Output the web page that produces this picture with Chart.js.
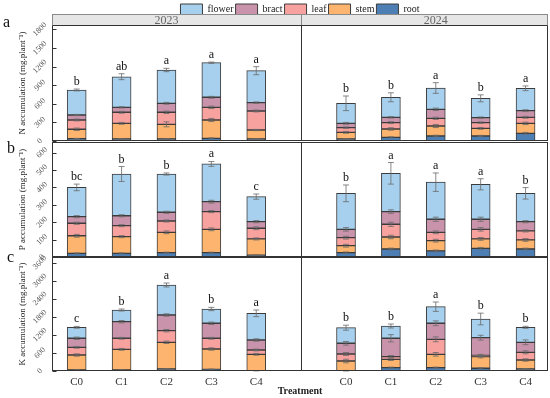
<!DOCTYPE html>
<html><head><meta charset="utf-8">
<script src="https://cdn.jsdelivr.net/npm/chart.js@4.4.1/dist/chart.umd.min.js"></script>
<style>
html,body{margin:0;padding:0;background:#fff;}
#wrap{position:relative;width:550px;height:398px;overflow:hidden;background:#fff;}
canvas{position:absolute;left:0;}
</style></head>
<body><div id="wrap">
<canvas id="cN" style="top:0px" width="550" height="160"></canvas>
<canvas id="cP" style="top:125px" width="550" height="150"></canvas>
<canvas id="cK" style="top:240px" width="550" height="158"></canvas>
</div>
<script>
// ---------- data (first five = 2023 C0..C4, last five = 2024 C0..C4) ----------
const categories = ['C0','C1','C2','C3','C4'];
const years = ['2023','2024'];
const parts = ['root','stem','leaf','bract','flower'];

const N_ticks = [0,300,600,900,1200,1500,1800];
const P_ticks = [0,100,200,300,400,500,600];
const K_ticks = [0,600,1200,1800,2400,3000,3600];

const N_root   = [37,32,32,43,32, 32,59,81,81,124];
const N_stem   = [152,253,237,296,145, 108,135,161,123,161];
const N_leaf   = [150,178,194,204,307, 75,102,124,92,97];
const N_bract  = [80,80,145,162,134, 70,86,145,80,107];
const N_flower = [404,494,537,558,516, 323,323,344,312,361];
const N_rootErr   = [5,5,5,8,5, 8,10,12,10,15];
const N_stemErr   = [20,15,40,25,10, 15,20,25,15,20];
const N_leafErr   = [15,15,20,20,15, 12,15,18,12,15];
const N_bractErr  = [10,10,15,15,12, 15,12,20,12,15];
const N_flowerErr = [15,48,27,10,65, 118,72,86,56,38];
const N_letters = ['b','ab','a','a','a', 'b','b','a','b','a'];

const P_root   = [21,21,25,25,10, 25,46,35,50,46];
const P_stem   = [101,96,117,134,94, 40,69,59,54,52];
const P_leaf   = [72,63,65,102,61, 46,73,48,55,52];
const P_bract  = [38,57,50,57,38, 48,73,75,58,53];
const P_flower = [168,240,220,217,144, 207,220,213,201,163];
const P_rootErr   = [3,3,3,3,2, 4,5,5,5,5];
const P_stemErr   = [8,6,8,8,6, 8,10,8,8,8];
const P_leafErr   = [6,6,6,6,8, 8,12,8,10,6];
const P_bractErr  = [6,6,6,8,6, 10,10,12,12,6];
const P_flowerErr = [19,43,6,14,15, 48,62,53,32,33];
const P_letters = ['bc','b','b','a','c', 'b','a','a','a','b'];

const K_root   = [40,33,66,56,10, 10,110,110,90,66];
const K_stem   = [491,687,887,674,544, 322,278,444,385,299];
const K_leaf   = [256,366,385,356,143, 232,87,498,46,256];
const K_bract  = [299,551,521,498,332, 356,611,532,585,332];
const K_flower = [365,388,996,474,886, 518,408,551,620,498];
const K_rootErr   = [10,10,15,10,5, 10,20,20,20,15];
const K_stemErr   = [40,30,40,40,30, 60,40,60,40,40];
const K_leafErr   = [30,30,40,30,30, 50,40,80,30,50];
const K_bractErr  = [40,40,40,40,40, 60,120,80,80,80];
const K_flowerErr = [30,33,66,55,110, 83,66,155,194,33];
const K_letters = ['c','b','a','b','a', 'b','b','a','b','b'];

// ---------- styles ----------
const FONT = 'Liberation Serif';
const partColors = ['#4d7fb4','#fcb46e','#f8a2a0','#c994ab','#a6d0ee'];
const slot = i => Math.floor(i / 5) * 6 + (i % 5);
const tickSlots = Array.from({length: 10}, (_, i) => slot(i));

const framePlugin = {
  id: 'frame',
  afterDatasetsDraw(chart, args, o) {
    const ctx = chart.ctx, a = chart.chartArea, xs = chart.scales.x, ys = chart.scales.y;
    const L = Math.round(a.left) + 0.5, R = Math.round(a.right) - 0.5;
    const T = Math.round(a.top) + 0.5, B = Math.round(a.bottom) - 0.5;
    const D = Math.round(xs.getPixelForValue(5)) + 0.5;
    ctx.save();
    // error bars
    const cum = new Array(10).fill(0);
    ctx.strokeStyle = '#6a6a6a'; ctx.lineWidth = 0.8;
    chart.data.datasets.forEach((ds, k) => {
      const meta = chart.getDatasetMeta(k);
      ds.data.forEach((pt, i) => {
        cum[i] += pt.y;
        const e = ds.err[i];
        const x = meta.data[i].x;
        const y1 = ys.getPixelForValue(cum[i] + e), y2 = ys.getPixelForValue(cum[i] - e);
        ctx.beginPath();
        ctx.moveTo(x, y1); ctx.lineTo(x, y2);
        ctx.moveTo(x - 3, y1); ctx.lineTo(x + 3, y1);
        ctx.moveTo(x - 3, y2); ctx.lineTo(x + 3, y2);
        ctx.stroke();
      });
    });
    // significance letters
    const last = chart.data.datasets.length - 1;
    const top = chart.data.datasets[last];
    ctx.fillStyle = '#111'; ctx.font = '12px ' + FONT;
    ctx.textAlign = 'center'; ctx.textBaseline = 'alphabetic';
    o.letters.forEach((t, i) => {
      const x = chart.getDatasetMeta(last).data[i].x;
      const y = ys.getPixelForValue(cum[i] + top.err[i]);
      ctx.fillText(t, x, y - 4);
    });
    // panel frame
    ctx.strokeStyle = '#333'; ctx.lineWidth = 1;
    ctx.strokeRect(L, T, R - L, B - T);
    ctx.beginPath(); ctx.moveTo(D, T); ctx.lineTo(D, B); ctx.stroke();
    // inward tick marks
    ys.ticks.forEach(t => {
      const y = Math.round(ys.getPixelForValue(t.value)) + 0.5;
      ctx.beginPath(); ctx.moveTo(L, y); ctx.lineTo(L + 4, y); ctx.stroke();
    });
    // year strip
    if (o.strip) {
      const st = T - 11;
      ctx.fillStyle = '#e6e6e6';
      ctx.fillRect(L, st, R - L, T - st);
      ctx.strokeStyle = '#8a8a8a';
      ctx.strokeRect(L, st, R - L, T - st);
      ctx.beginPath(); ctx.moveTo(D, st); ctx.lineTo(D, T); ctx.stroke();
      ctx.strokeStyle = '#333';
      ctx.beginPath(); ctx.moveTo(L, T); ctx.lineTo(R, T); ctx.stroke();
      ctx.fillStyle = '#666'; ctx.font = '12px ' + FONT;
      ctx.textAlign = 'center'; ctx.textBaseline = 'middle';
      years.forEach((yr, j) => ctx.fillText(yr, xs.getPixelForValue(slot(j * 5 + 2)), (st + T) / 2 + 0.5));
    }
    // panel letter
    ctx.fillStyle = '#111'; ctx.font = '16px ' + FONT;
    ctx.textAlign = 'left'; ctx.textBaseline = 'alphabetic';
    ctx.fillText(o.panel, o.px, o.py);
    ctx.restore();
  }
};

function buildRow(id, cfg) {
  const datasets = parts.map((p, k) => ({
    label: p,
    data: cfg.values[k].map((v, i) => ({x: slot(i), y: v})),
    err: cfg.errs[k],
    backgroundColor: partColors[k],
    borderColor: '#3c3c3c',
    borderWidth: 1,
    borderSkipped: false,
    barThickness: 19
  }));
  return new Chart(document.getElementById(id), {
    type: 'bar',
    data: {datasets},
    plugins: [framePlugin],
    options: {
      responsive: false, animation: false, devicePixelRatio: 1,
      layout: {padding: cfg.padding},
      plugins: {
        tooltip: {enabled: false},
        legend: cfg.legend ? {
          display: true, position: 'top', fullSize: false, reverse: true,
          labels: {boxWidth: 22, boxHeight: 11, padding: 2, color: '#222',
                   font: {family: FONT, size: 10}}
        } : {display: false},
        frame: {letters: cfg.letters, strip: !!cfg.legend, panel: cfg.panel, px: cfg.px, py: cfg.py}
      },
      scales: {
        x: {
          type: 'linear', min: -0.55, max: 10.5, stacked: true, offset: false,
          display: !!cfg.bottom,
          grid: {display: false, drawTicks: false}, border: {display: false},
          afterBuildTicks: s => { s.ticks = tickSlots.map(v => ({value: v})); },
          ticks: {callback: v => categories[v % 6], autoSkip: false, maxRotation: 0,
                  padding: 5, color: '#333', font: {family: FONT, size: 11}},
          title: {display: !!cfg.bottom, text: 'Treatment', color: '#222',
                  font: {family: FONT, size: 10, weight: 'bold'}, padding: {top: 0, bottom: 1}},
          afterFit: s => { s.height = cfg.bottom ? 27 : 0; }
        },
        y: {
          stacked: true, min: 0, max: cfg.max,
          grid: {display: false, drawTicks: false}, border: {display: false},
          afterBuildTicks: s => { s.ticks = cfg.ticks.map(v => ({value: v})); },
          ticks: {callback: v => String(v), minRotation: 45, maxRotation: 45, autoSkip: false,
                  crossAlign: 'center', padding: 4, color: '#555', font: {family: FONT, size: 8}},
          title: {display: true, text: cfg.title, color: '#222',
                  font: {family: FONT, size: 9}, padding: {top: 17, bottom: 0}},
          afterFit: s => { s.width = 52; }
        }
      }
    }
  });
}

buildRow('cN', {
  values: [N_root, N_stem, N_leaf, N_bract, N_flower],
  errs: [N_rootErr, N_stemErr, N_leafErr, N_bractErr, N_flowerErr],
  letters: N_letters, ticks: N_ticks, max: 1871,
  title: 'N accumulation (mg.plant\u207B\u00B9)',
  legend: true, panel: 'a', px: 3, py: 27,
  padding: {top: 2, bottom: 19, left: 0, right: 2}
});
buildRow('cP', {
  values: [P_root, P_stem, P_leaf, P_bract, P_flower],
  errs: [P_rootErr, P_stemErr, P_leafErr, P_bractErr, P_flowerErr],
  letters: P_letters, ticks: P_ticks, max: 661,
  title: 'P accumulation (mg.plant\u207B\u00B9)',
  panel: 'b', px: 7, py: 28,
  padding: {top: 17, bottom: 18, left: 0, right: 2}
});
buildRow('cK', {
  values: [K_root, K_stem, K_leaf, K_bract, K_flower],
  errs: [K_rootErr, K_stemErr, K_leafErr, K_bractErr, K_flowerErr],
  letters: K_letters, ticks: K_ticks, max: 3785,
  title: 'K accumulation (mg.plant\u207B\u00B9)',
  bottom: true, panel: 'c', px: 7, py: 22,
  padding: {top: 17, bottom: 0, left: 0, right: 2}
});
</script>
</body></html>
